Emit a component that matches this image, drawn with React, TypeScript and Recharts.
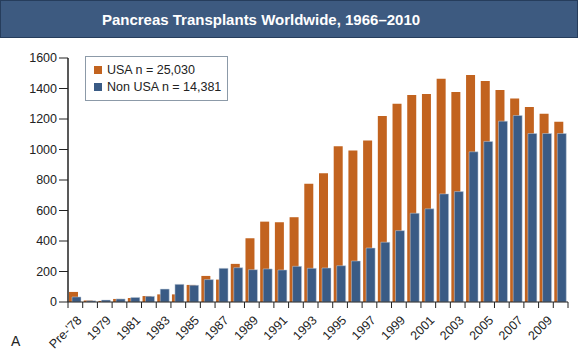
import { Bar, BarChart, XAxis, YAxis } from "recharts";

const categories = [
  "Pre-'78", "1978", "1979", "1980", "1981", "1982", "1983", "1984", "1985", "1986",
  "1987", "1988", "1989", "1990", "1991", "1992", "1993", "1994", "1995", "1996",
  "1997", "1998", "1999", "2000", "2001", "2002", "2003", "2004", "2005", "2006",
  "2007", "2008", "2009", "2010",
];

const usa = [
  66, 10, 7, 20, 26, 39, 50, 50, 112, 171,
  147, 250, 418, 527, 523, 556, 775, 845, 1022, 993,
  1059, 1219, 1300, 1357, 1364, 1464, 1377, 1488, 1449, 1390,
  1335, 1278, 1234, 1182,
];

const nonUsa = [
  33, 8, 13, 20, 30, 37, 85, 116, 110, 147,
  221, 225, 212, 217, 210, 234, 221, 223, 238, 269,
  354, 392, 468, 582, 611, 709, 724, 985, 1053, 1186,
  1223, 1105, 1105, 1105,
];

const yTicks = [0, 200, 400, 600, 800, 1000, 1200, 1400, 1600];

const legendItems = [
  { label: "USA n = 25,030", key: "usa" },
  { label: "Non USA n = 14,381", key: "nonUsa" },
];

const USA_COLOR = "#c2631f";
const NON_USA_COLOR = "#3a5b85";
const FONT = "'Liberation Sans', Arial, Helvetica, sans-serif";

const W = 578;
const H = 350;
const LEFT = 68;
const RIGHT = 10;
const BAND = (W - LEFT - RIGHT) / categories.length;

const rows = categories.map((c, i) => ({ year: c, usa: usa[i], nonUsa: nonUsa[i] }));

function YearTick(props: any) {
  const { x, y, payload, index } = props;
  const axisY = y - 6;
  const left = x - BAND / 2;
  return (
    <g>
      <line x1={left} x2={left} y1={axisY} y2={axisY + 6} stroke="#222" strokeWidth={1} />
      {index === categories.length - 1 && (
        <line x1={x + BAND / 2} x2={x + BAND / 2} y1={axisY} y2={axisY + 6} stroke="#222" strokeWidth={1} />
      )}
      {index % 2 === 0 && (
        <text
          x={x + 7}
          y={axisY + 19}
          textAnchor="end"
          fontSize={12.5}
          fill="#222"
          fontFamily={FONT}
          transform={`rotate(-45 ${x + 7} ${axisY + 19})`}
        >
          {payload.value}
        </text>
      )}
    </g>
  );
}

function LegendBox() {
  return (
    <div
      style={{
        position: "absolute",
        left: 85,
        top: 56,
        width: 143,
        height: 45,
        border: "1px solid #8c9aa8",
        background: "#fff",
        padding: "5px 0 5px 8px",
        fontFamily: FONT,
        fontSize: 12.5,
        color: "#222",
        boxSizing: "border-box",
      }}
    >
      {legendItems.map((it) => (
        <div key={it.key} style={{ display: "flex", alignItems: "center", height: 16.5 }}>
          <span
            style={{
              width: 8,
              height: 8,
              background: it.key === "usa" ? USA_COLOR : NON_USA_COLOR,
              marginRight: 5,
              display: "inline-block",
            }}
          />
          {it.label}
        </div>
      ))}
    </div>
  );
}

export default function App() {
  return (
    <div style={{ position: "absolute", left: 0, top: 0, width: W, height: H, background: "#fff", fontFamily: FONT }}>
      <div
        style={{
          position: "absolute",
          left: 0,
          top: 0,
          width: W,
          height: 38,
          boxSizing: "border-box",
          background: "#3d5a80",
          border: "1px solid #263d5c",
        }}
      />
      <BarChart
        width={W}
        height={H}
        data={rows}
        margin={{ top: 58, right: RIGHT, bottom: 0, left: 0 }}
        barSize={9}
        barGap={-6}
      >
        <text x={261} y={25} textAnchor="middle" fill="#fff" fontSize={15} fontWeight="bold" fontFamily={FONT}>
          Pancreas Transplants Worldwide, 1966–2010
        </text>
        <text x={11} y={346} fontSize={14} fill="#222" fontFamily={FONT}>
          A
        </text>
        <XAxis
          dataKey="year"
          interval={0}
          height={48}
          tickLine={false}
          tickSize={6}
          tickMargin={0}
          axisLine={{ stroke: "#222", strokeWidth: 1.2 }}
          tick={<YearTick />}
        />
        <YAxis
          width={LEFT}
          domain={[0, 1600]}
          ticks={yTicks}
          interval={0}
          tickSize={9}
          tickMargin={2}
          axisLine={{ stroke: "#222", strokeWidth: 1.5 }}
          tickLine={{ stroke: "#222" }}
          tick={{ fill: "#222", fontSize: 12.5, fontFamily: FONT }}
        />
        <Bar dataKey="usa" name="USA n = 25,030" fill={USA_COLOR} isAnimationActive={false} />
        <Bar
          dataKey="nonUsa"
          name="Non USA n = 14,381"
          fill={NON_USA_COLOR}
          stroke="#c9d3df"
          strokeWidth={0.5}
          isAnimationActive={false}
        />
      </BarChart>
      <LegendBox />
    </div>
  );
}
